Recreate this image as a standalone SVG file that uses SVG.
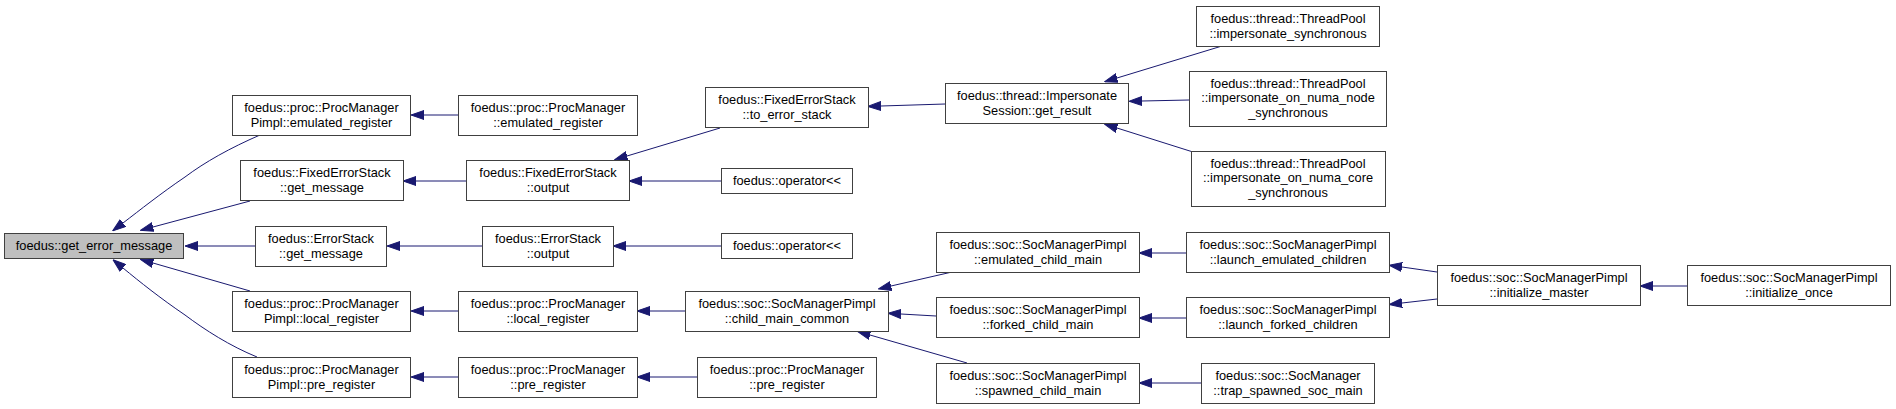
<svg xmlns="http://www.w3.org/2000/svg" width="1896" height="409" viewBox="0 0 1896 409">
<style>
.n rect{fill:#ffffff;stroke:#404040;stroke-width:1}
.n.root rect{fill:#bfbfbf}
.n text{font-family:"Liberation Sans",Arial,sans-serif;font-size:12.8px;fill:#000000;text-anchor:middle}
.e path{fill:none;stroke:#191970;stroke-width:1;marker-end:url(#ah)}
</style>
<defs>
<marker id="ah" markerUnits="userSpaceOnUse" viewBox="0 0 13 10" refX="0" refY="5" markerWidth="13" markerHeight="10" orient="auto">
<path d="M0,0.5 L13,5 L0,9.5 z" fill="#191970" stroke="#191970" stroke-width="1"/>
</marker>
</defs>
<rect width="1896" height="409" fill="#ffffff"/>
<g id="edges" class="e">
<path d="M260,135 C230,148 205,162 185,177 C160,194 140,210 123,223"/>
<path d="M250,201 L153,227"/>
<path d="M255,246 H198"/>
<path d="M250,291 L153,263"/>
<path d="M257,357 C230,346 205,330 185,315 C160,298 140,282 123,268"/>
<path d="M458,115 H424"/>
<path d="M466,181 H416"/>
<path d="M482,246 H400"/>
<path d="M458,311 H424"/>
<path d="M458,377 H424"/>
<path d="M720,128 L627,156"/>
<path d="M721,181 H642"/>
<path d="M721,246 H626"/>
<path d="M685,311 H650"/>
<path d="M697,377 H650"/>
<path d="M945,104 L881,106"/>
<path d="M1222,46 L1117,78"/>
<path d="M1189,100 L1142,101"/>
<path d="M1193,152 L1117,128"/>
<path d="M952,272 L891,286"/>
<path d="M936,316 L901,314"/>
<path d="M967,363 L870,335"/>
<path d="M1186,253 H1152"/>
<path d="M1186,318 H1152"/>
<path d="M1201,383 H1152"/>
<path d="M1437,272 L1402,267"/>
<path d="M1437,299 L1402,303"/>
<path d="M1687,286 H1653"/>
</g>
<g id="n_get_error_message" class="n root"><rect x="4.5" y="233.5" width="179" height="25"/><text x="94" y="249.5">foedus::get_error_message</text></g>
<g id="n_pimpl_emulated_register" class="n"><rect x="232.5" y="95.5" width="178" height="40"/><text x="321.5" y="111.5">foedus::proc::ProcManager</text><text x="321.5" y="126.5">Pimpl::emulated_register</text></g>
<g id="n_fixed_get_message" class="n"><rect x="240.5" y="160.5" width="163" height="40"/><text x="322" y="176.5">foedus::FixedErrorStack</text><text x="322" y="191.5">::get_message</text></g>
<g id="n_error_get_message" class="n"><rect x="255.5" y="226.5" width="131" height="40"/><text x="321" y="242.5">foedus::ErrorStack</text><text x="321" y="257.5">::get_message</text></g>
<g id="n_pimpl_local_register" class="n"><rect x="232.5" y="291.5" width="178" height="40"/><text x="321.5" y="307.5">foedus::proc::ProcManager</text><text x="321.5" y="322.5">Pimpl::local_register</text></g>
<g id="n_pimpl_pre_register" class="n"><rect x="232.5" y="357.5" width="178" height="40"/><text x="321.5" y="373.5">foedus::proc::ProcManager</text><text x="321.5" y="388.5">Pimpl::pre_register</text></g>
<g id="n_pm_emulated_register" class="n"><rect x="458.5" y="95.5" width="179" height="40"/><text x="548" y="111.5">foedus::proc::ProcManager</text><text x="548" y="126.5">::emulated_register</text></g>
<g id="n_fixed_output" class="n"><rect x="466.5" y="160.5" width="163" height="40"/><text x="548" y="176.5">foedus::FixedErrorStack</text><text x="548" y="191.5">::output</text></g>
<g id="n_error_output" class="n"><rect x="482.5" y="226.5" width="131" height="40"/><text x="548" y="242.5">foedus::ErrorStack</text><text x="548" y="257.5">::output</text></g>
<g id="n_pm_local_register" class="n"><rect x="458.5" y="291.5" width="179" height="40"/><text x="548" y="307.5">foedus::proc::ProcManager</text><text x="548" y="322.5">::local_register</text></g>
<g id="n_pm_pre_register" class="n"><rect x="458.5" y="357.5" width="179" height="40"/><text x="548" y="373.5">foedus::proc::ProcManager</text><text x="548" y="388.5">::pre_register</text></g>
<g id="n_to_error_stack" class="n"><rect x="705.5" y="87.5" width="163" height="40"/><text x="787" y="103.5">foedus::FixedErrorStack</text><text x="787" y="118.5">::to_error_stack</text></g>
<g id="n_operator_a" class="n"><rect x="721.5" y="168.5" width="131" height="25"/><text x="787" y="184.5">foedus::operator&lt;&lt;</text></g>
<g id="n_operator_b" class="n"><rect x="721.5" y="233.5" width="131" height="25"/><text x="787" y="249.5">foedus::operator&lt;&lt;</text></g>
<g id="n_child_main_common" class="n"><rect x="685.5" y="291.5" width="203" height="40"/><text x="787" y="307.5">foedus::soc::SocManagerPimpl</text><text x="787" y="322.5">::child_main_common</text></g>
<g id="n_pm_pre_register2" class="n"><rect x="697.5" y="357.5" width="179" height="40"/><text x="787" y="373.5">foedus::proc::ProcManager</text><text x="787" y="388.5">::pre_register</text></g>
<g id="n_get_result" class="n"><rect x="945.5" y="83.5" width="183" height="40"/><text x="1037" y="99.5">foedus::thread::Impersonate</text><text x="1037" y="114.5">Session::get_result</text></g>
<g id="n_imp_sync" class="n"><rect x="1196.5" y="6.5" width="183" height="40"/><text x="1288" y="22.5">foedus::thread::ThreadPool</text><text x="1288" y="37.5">::impersonate_synchronous</text></g>
<g id="n_imp_node" class="n"><rect x="1189.5" y="71.5" width="197" height="55"/><text x="1288" y="87.5">foedus::thread::ThreadPool</text><text x="1288" y="102.2">::impersonate_on_numa_node</text><text x="1288" y="116.9">_synchronous</text></g>
<g id="n_imp_core" class="n"><rect x="1191.5" y="151.5" width="194" height="55"/><text x="1288" y="167.5">foedus::thread::ThreadPool</text><text x="1288" y="182.2">::impersonate_on_numa_core</text><text x="1288" y="196.9">_synchronous</text></g>
<g id="n_emulated_child_main" class="n"><rect x="936.5" y="232.5" width="203" height="40"/><text x="1038" y="248.5">foedus::soc::SocManagerPimpl</text><text x="1038" y="263.5">::emulated_child_main</text></g>
<g id="n_forked_child_main" class="n"><rect x="936.5" y="297.5" width="203" height="40"/><text x="1038" y="313.5">foedus::soc::SocManagerPimpl</text><text x="1038" y="328.5">::forked_child_main</text></g>
<g id="n_spawned_child_main" class="n"><rect x="936.5" y="363.5" width="203" height="40"/><text x="1038" y="379.5">foedus::soc::SocManagerPimpl</text><text x="1038" y="394.5">::spawned_child_main</text></g>
<g id="n_launch_emulated" class="n"><rect x="1186.5" y="232.5" width="203" height="40"/><text x="1288" y="248.5">foedus::soc::SocManagerPimpl</text><text x="1288" y="263.5">::launch_emulated_children</text></g>
<g id="n_launch_forked" class="n"><rect x="1186.5" y="297.5" width="203" height="40"/><text x="1288" y="313.5">foedus::soc::SocManagerPimpl</text><text x="1288" y="328.5">::launch_forked_children</text></g>
<g id="n_trap_spawned" class="n"><rect x="1201.5" y="363.5" width="173" height="40"/><text x="1288" y="379.5">foedus::soc::SocManager</text><text x="1288" y="394.5">::trap_spawned_soc_main</text></g>
<g id="n_initialize_master" class="n"><rect x="1437.5" y="265.5" width="203" height="40"/><text x="1539" y="281.5">foedus::soc::SocManagerPimpl</text><text x="1539" y="296.5">::initialize_master</text></g>
<g id="n_initialize_once" class="n"><rect x="1687.5" y="265.5" width="203" height="40"/><text x="1789" y="281.5">foedus::soc::SocManagerPimpl</text><text x="1789" y="296.5">::initialize_once</text></g>
</svg>
